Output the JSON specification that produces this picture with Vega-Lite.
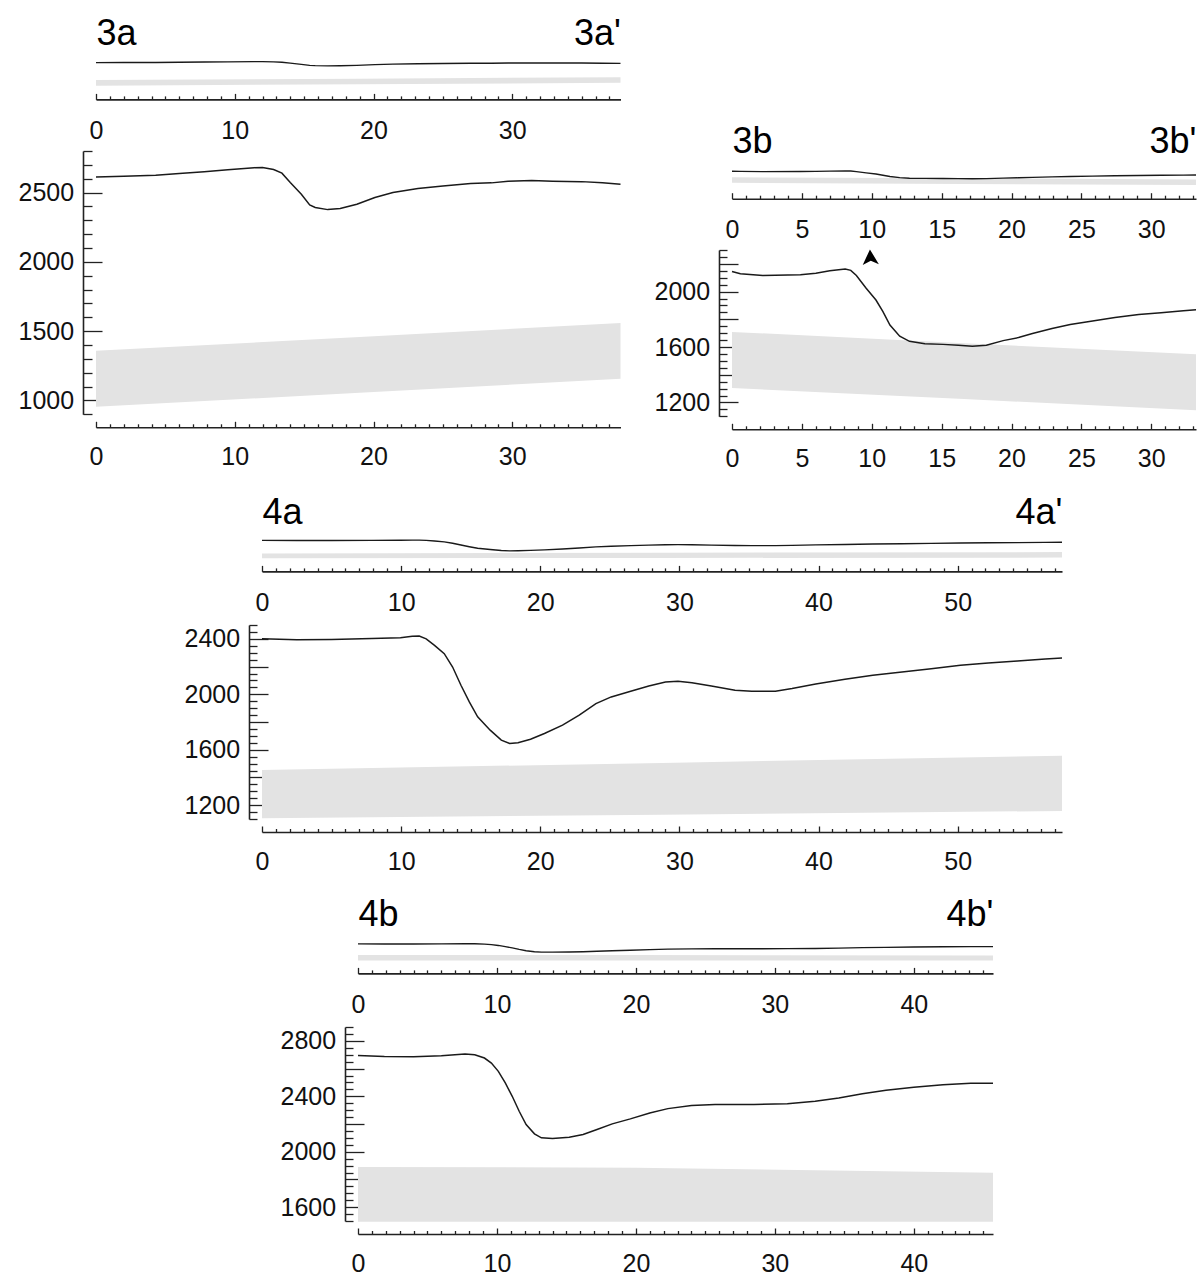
{
  "$schema": "https://vega.github.io/schema/vega-lite/v6.json",
  "padding": {"left": 5, "top": 15, "right": 5, "bottom": 5},
  "config": {
    "view": {"stroke": null},
    "font": "Liberation Sans",
    "axis": {"labelFont": "Liberation Sans", "labelFontSize": 25, "labelColor": "#111", "domainColor": "#222", "domainWidth": 1.6, "tickColor": "#222", "tickWidth": 1.3, "grid": false, "labelFlush": false, "labelOverlap": false}
  },
  "datasets": {
    "line3a": [
      {"x": 0, "y": 2613}, {"x": 2, "y": 2618}, {"x": 4.3, "y": 2625}, {"x": 6, "y": 2638}, {"x": 7.8, "y": 2651}, {"x": 9.5, "y": 2665}, {"x": 11.4, "y": 2680}, {"x": 12, "y": 2681}, {"x": 12.8, "y": 2666}, {"x": 13.4, "y": 2640}, {"x": 14.0, "y": 2572}, {"x": 14.8, "y": 2488}, {"x": 15.4, "y": 2411}, {"x": 15.8, "y": 2392}, {"x": 16.7, "y": 2377}, {"x": 17.6, "y": 2385}, {"x": 18.8, "y": 2416}, {"x": 20.1, "y": 2464}, {"x": 21.4, "y": 2500}, {"x": 23.2, "y": 2529}, {"x": 25, "y": 2548}, {"x": 27, "y": 2565}, {"x": 28.5, "y": 2570}, {"x": 29.7, "y": 2582}, {"x": 31.4, "y": 2587}, {"x": 32.9, "y": 2582}, {"x": 35, "y": 2579}, {"x": 36.5, "y": 2570}, {"x": 37.8, "y": 2560}
    ],
    "band3a": [
      {"x": 0, "top": 1358, "bot": 954}, {"x": 19, "top": 1458, "bot": 1055}, {"x": 37.8, "top": 1558, "bot": 1156}
    ],
    "line3b": [
      {"x": 0, "y": 2145}, {"x": 0.6, "y": 2128}, {"x": 2.2, "y": 2116}, {"x": 4.9, "y": 2121}, {"x": 6.0, "y": 2133}, {"x": 7.0, "y": 2150}, {"x": 8.1, "y": 2162}, {"x": 8.5, "y": 2153}, {"x": 8.9, "y": 2116}, {"x": 9.6, "y": 2024}, {"x": 10.3, "y": 1939}, {"x": 10.8, "y": 1855}, {"x": 11.3, "y": 1758}, {"x": 12.0, "y": 1678}, {"x": 12.7, "y": 1641}, {"x": 13.8, "y": 1624}, {"x": 15.1, "y": 1619}, {"x": 16.2, "y": 1612}, {"x": 17.2, "y": 1605}, {"x": 18.2, "y": 1612}, {"x": 19.4, "y": 1646}, {"x": 20.5, "y": 1668}, {"x": 21.5, "y": 1697}, {"x": 22.9, "y": 1733}, {"x": 24.2, "y": 1762}, {"x": 25.8, "y": 1787}, {"x": 27.4, "y": 1813}, {"x": 29.1, "y": 1835}, {"x": 30.7, "y": 1847}, {"x": 32.3, "y": 1862}, {"x": 33.2, "y": 1869}
    ],
    "band3b": [
      {"x": 0, "top": 1709, "bot": 1304}, {"x": 16.6, "top": 1628, "bot": 1224}, {"x": 33.2, "top": 1547, "bot": 1144}
    ],
    "arrow3b": [
      {"x": 9.9, "y": 2243}
    ],
    "line4a": [
      {"x": 0, "y": 2400}, {"x": 2.5, "y": 2394}, {"x": 5, "y": 2396}, {"x": 7.9, "y": 2403}, {"x": 9.95, "y": 2408}, {"x": 10.8, "y": 2418}, {"x": 11.3, "y": 2420}, {"x": 11.8, "y": 2400}, {"x": 12.4, "y": 2353}, {"x": 13.1, "y": 2293}, {"x": 13.7, "y": 2197}, {"x": 14.3, "y": 2065}, {"x": 14.9, "y": 1945}, {"x": 15.5, "y": 1837}, {"x": 16.4, "y": 1741}, {"x": 17.2, "y": 1669}, {"x": 17.8, "y": 1645}, {"x": 18.4, "y": 1650}, {"x": 19.3, "y": 1676}, {"x": 20.3, "y": 1717}, {"x": 21.6, "y": 1777}, {"x": 22.8, "y": 1849}, {"x": 24.0, "y": 1933}, {"x": 25.1, "y": 1981}, {"x": 26.5, "y": 2022}, {"x": 27.8, "y": 2060}, {"x": 29.0, "y": 2089}, {"x": 29.9, "y": 2094}, {"x": 30.9, "y": 2084}, {"x": 32.3, "y": 2060}, {"x": 34.0, "y": 2029}, {"x": 35.2, "y": 2022}, {"x": 36.9, "y": 2022}, {"x": 38.1, "y": 2041}, {"x": 39.8, "y": 2074}, {"x": 41.9, "y": 2108}, {"x": 43.9, "y": 2137}, {"x": 46.0, "y": 2161}, {"x": 48.1, "y": 2185}, {"x": 50.2, "y": 2209}, {"x": 52.2, "y": 2226}, {"x": 54.3, "y": 2240}, {"x": 56.3, "y": 2254}, {"x": 57.5, "y": 2262}
    ],
    "band4a": [
      {"x": 0, "top": 1453, "bot": 1105}, {"x": 28.75, "top": 1505, "bot": 1131}, {"x": 57.5, "top": 1556, "bot": 1158}
    ],
    "line4b": [
      {"x": 0, "y": 2695}, {"x": 1.9, "y": 2688}, {"x": 4.0, "y": 2686}, {"x": 6.0, "y": 2693}, {"x": 7.7, "y": 2705}, {"x": 8.4, "y": 2700}, {"x": 9.1, "y": 2676}, {"x": 9.6, "y": 2640}, {"x": 10.1, "y": 2580}, {"x": 10.6, "y": 2496}, {"x": 11.1, "y": 2400}, {"x": 11.6, "y": 2292}, {"x": 12.1, "y": 2196}, {"x": 12.7, "y": 2129}, {"x": 13.2, "y": 2100}, {"x": 14.0, "y": 2095}, {"x": 15.2, "y": 2105}, {"x": 16.2, "y": 2124}, {"x": 17.2, "y": 2160}, {"x": 18.3, "y": 2201}, {"x": 19.6, "y": 2237}, {"x": 21.0, "y": 2280}, {"x": 22.3, "y": 2311}, {"x": 24.0, "y": 2333}, {"x": 25.7, "y": 2340}, {"x": 28.5, "y": 2340}, {"x": 30.9, "y": 2347}, {"x": 32.9, "y": 2364}, {"x": 34.6, "y": 2388}, {"x": 36.3, "y": 2419}, {"x": 38.0, "y": 2443}, {"x": 40.0, "y": 2465}, {"x": 42.1, "y": 2484}, {"x": 44.1, "y": 2494}, {"x": 45.7, "y": 2494}
    ],
    "band4b": [
      {"x": 0, "top": 1890, "bot": 1495}, {"x": 20, "top": 1885, "bot": 1495}, {"x": 45.7, "top": 1848, "bot": 1495}
    ]
  },
  "spacing": 22,
  "vconcat": [
    {
      "spacing": 16,
      "hconcat": [
        {
          "spacing": 6,
          "vconcat": [
            {
              "width": 524.5, "height": 26.4,
              "resolve": {"axis": {"x": "independent"}},
              "layer": [
                {"data": {"name": "band3a"}, "mark": {"type": "area", "color": "#e3e3e3"},
                 "encoding": {
                   "x": {"field": "x", "type": "quantitative", "title": null, "scale": {"domain": [0, 37.8], "nice": false, "zero": false},
                         "axis": {"orient": "bottom", "offset": 13, "format": "d", "labelOverlap": false, "values": [0,1,2,3,4,5,6,7,8,9,10,11,12,13,14,15,16,17,18,19,20,21,22,23,24,25,26,27,28,29,30,31,32,33,34,35,36,37], "tickSize": {"condition": {"test": "datum.value % 10 === 0", "value": -6}, "value": -3.5}, "labelFontSize": {"condition": {"test": "datum.value % 10 === 0", "value": 25}, "value": 0}, "labelExpr": "datum.value % 10 === 0 ? datum.label : ''", "labelPadding": 25}},
                   "y": {"field": "top", "type": "quantitative", "title": null, "scale": {"domain": [900, 2800], "nice": false, "zero": false}, "axis": null},
                   "y2": {"field": "bot"}
                 }},
                {"data": {"name": "line3a"}, "mark": {"type": "line", "color": "#1a1a1a", "strokeWidth": 1.4},
                 "encoding": {
                   "x": {"field": "x", "type": "quantitative", "title": null, "scale": {"domain": [0, 37.8], "nice": false, "zero": false},
                         "axis": {"orient": "top", "values": [0, 37.8], "labelOverlap": false, "labelExpr": "datum.value < 1 ? '3a' : \"3a'\"", "labelAlign": {"condition": {"test": "datum.value < 1", "value": "left"}, "value": "right"}, "labelBaseline": "alphabetic", "labelFontSize": 36, "labelColor": "#000", "labelPadding": 16, "ticks": false, "domain": false}},
                   "y": {"field": "y", "type": "quantitative", "title": null, "scale": {"domain": [900, 2800], "nice": false, "zero": false}, "axis": null}
                 }}
              ]
            },
            {
              "width": 524.5, "height": 263.3,
              "resolve": {"axis": {"x": "independent", "y": "independent"}},
              "layer": [
                {"data": {"name": "band3a"}, "mark": {"type": "area", "color": "#e3e3e3"},
                 "encoding": {
                   "x": {"field": "x", "type": "quantitative", "title": null, "scale": {"domain": [0, 37.8], "nice": false, "zero": false},
                         "axis": {"orient": "bottom", "offset": 13, "format": "d", "labelOverlap": false, "values": [0,1,2,3,4,5,6,7,8,9,10,11,12,13,14,15,16,17,18,19,20,21,22,23,24,25,26,27,28,29,30,31,32,33,34,35,36,37], "tickSize": {"condition": {"test": "datum.value % 10 === 0", "value": -6}, "value": -3.5}, "labelFontSize": {"condition": {"test": "datum.value % 10 === 0", "value": 25}, "value": 0}, "labelExpr": "datum.value % 10 === 0 ? datum.label : ''", "labelPadding": 23}},
                   "y": {"field": "top", "type": "quantitative", "title": null, "scale": {"domain": [900, 2800], "nice": false, "zero": false},
                         "axis": {"orient": "left", "offset": 13, "format": "d", "labelOverlap": false, "values": [900,1000,1100,1200,1300,1400,1500,1600,1700,1800,1900,2000,2100,2200,2300,2400,2500,2600,2700,2800], "tickSize": {"condition": {"test": "datum.value % 500 === 0", "value": -19}, "value": -9}, "labelFontSize": {"condition": {"test": "datum.value % 500 === 0", "value": 25}, "value": 0}, "labelExpr": "datum.value % 500 === 0 ? datum.label : ''", "labelPadding": 28.4, "minExtent": 77.5}},
                   "y2": {"field": "bot"}
                 }},
                {"data": {"name": "line3a"}, "mark": {"type": "line", "color": "#1a1a1a", "strokeWidth": 1.5},
                 "encoding": {
                   "x": {"field": "x", "type": "quantitative", "title": null, "axis": null},
                   "y": {"field": "y", "type": "quantitative", "title": null, "axis": null}
                 }}
              ]
            }
          ]
        },
        {
          "spacing": 6,
          "vconcat": [
            {
              "width": 464, "height": 125.7,
              "resolve": {"axis": {"x": "independent"}},
              "layer": [
                {"data": {"name": "band3b"}, "mark": {"type": "area", "color": "#e3e3e3"},
                 "encoding": {
                   "x": {"field": "x", "type": "quantitative", "title": null, "scale": {"domain": [0, 33.2], "nice": false, "zero": false},
                         "axis": {"orient": "bottom", "offset": 13, "format": "d", "labelOverlap": false, "values": [0,1,2,3,4,5,6,7,8,9,10,11,12,13,14,15,16,17,18,19,20,21,22,23,24,25,26,27,28,29,30,31,32,33], "tickSize": {"condition": {"test": "datum.value % 5 === 0", "value": -6}, "value": -3.5}, "labelFontSize": {"condition": {"test": "datum.value % 5 === 0", "value": 25}, "value": 0}, "labelExpr": "datum.value % 5 === 0 ? datum.label : ''", "labelPadding": 25}},
                   "y": {"field": "top", "type": "quantitative", "title": null, "scale": {"domain": [1100, 10147], "nice": false, "zero": false}, "axis": null},
                   "y2": {"field": "bot"}
                 }},
                {"data": {"name": "line3b"}, "mark": {"type": "line", "color": "#1a1a1a", "strokeWidth": 1.4},
                 "encoding": {
                   "x": {"field": "x", "type": "quantitative", "title": null, "scale": {"domain": [0, 33.2], "nice": false, "zero": false},
                         "axis": {"orient": "top", "offset": -108.4, "values": [0, 33.2], "labelOverlap": false, "labelExpr": "datum.value < 1 ? '3b' : \"3b'\"", "labelAlign": {"condition": {"test": "datum.value < 1", "value": "left"}, "value": "right"}, "labelBaseline": "alphabetic", "labelFontSize": 36, "labelColor": "#000", "labelPadding": 16, "ticks": false, "domain": false}},
                   "y": {"field": "y", "type": "quantitative", "title": null, "scale": {"domain": [1100, 10147], "nice": false, "zero": false}, "axis": null}
                 }}
              ]
            },
            {
              "width": 464, "height": 166.3,
              "resolve": {"axis": {"x": "independent", "y": "independent"}},
              "layer": [
                {"data": {"name": "band3b"}, "mark": {"type": "area", "color": "#e3e3e3"},
                 "encoding": {
                   "x": {"field": "x", "type": "quantitative", "title": null, "scale": {"domain": [0, 33.2], "nice": false, "zero": false},
                         "axis": {"orient": "bottom", "offset": 13, "format": "d", "labelOverlap": false, "values": [0,1,2,3,4,5,6,7,8,9,10,11,12,13,14,15,16,17,18,19,20,21,22,23,24,25,26,27,28,29,30,31,32,33], "tickSize": {"condition": {"test": "datum.value % 5 === 0", "value": -6}, "value": -3.5}, "labelFontSize": {"condition": {"test": "datum.value % 5 === 0", "value": 25}, "value": 0}, "labelExpr": "datum.value % 5 === 0 ? datum.label : ''", "labelPadding": 23}},
                   "y": {"field": "top", "type": "quantitative", "title": null, "scale": {"domain": [1100, 2300], "nice": false, "zero": false},
                         "axis": {"orient": "left", "offset": 13, "format": "d", "labelOverlap": false, "values": [1100,1150,1200,1250,1300,1350,1400,1450,1500,1550,1600,1650,1700,1750,1800,1850,1900,1950,2000,2050,2100,2150,2200,2250,2300], "tickSize": {"condition": {"test": "datum.value % 200 === 0", "value": -19}, "value": -8}, "labelFontSize": {"condition": {"test": "datum.value % 400 === 0", "value": 25}, "value": 0}, "labelExpr": "datum.value % 400 === 0 ? datum.label : ''", "labelPadding": 28.4, "minExtent": 79}},
                   "y2": {"field": "bot"}
                 }},
                {"data": {"name": "line3b"}, "mark": {"type": "line", "color": "#1a1a1a", "strokeWidth": 1.5},
                 "encoding": {
                   "x": {"field": "x", "type": "quantitative", "title": null, "axis": null},
                   "y": {"field": "y", "type": "quantitative", "title": null, "axis": null}
                 }},
                {"data": {"name": "arrow3b"}, "mark": {"type": "point", "shape": "M-0.05,-1 L1,0.75 L0.05,0.35 L-0.9,0.85 Z", "filled": true, "color": "#000", "opacity": 1, "size": 289},
                 "encoding": {
                   "x": {"field": "x", "type": "quantitative", "title": null, "axis": null},
                   "y": {"field": "y", "type": "quantitative", "title": null, "axis": null}
                 }}
              ]
            }
          ]
        }
      ]
    },
    {
      "spacing": 0,
      "hconcat": [
        {"width": 83, "height": 1, "data": {"values": []}, "mark": "point", "encoding": {}},
        {
          "spacing": 8,
          "vconcat": [
            {
              "width": 800, "height": 19.4,
              "resolve": {"axis": {"x": "independent"}},
              "layer": [
                {"data": {"name": "band4a"}, "mark": {"type": "area", "color": "#e3e3e3"},
                 "encoding": {
                   "x": {"field": "x", "type": "quantitative", "title": null, "scale": {"domain": [0, 57.5], "nice": false, "zero": false},
                         "axis": {"orient": "bottom", "offset": 13, "format": "d", "labelOverlap": false, "values": [0,1,2,3,4,5,6,7,8,9,10,11,12,13,14,15,16,17,18,19,20,21,22,23,24,25,26,27,28,29,30,31,32,33,34,35,36,37,38,39,40,41,42,43,44,45,46,47,48,49,50,51,52,53,54,55,56,57], "tickSize": {"condition": {"test": "datum.value % 10 === 0", "value": -6}, "value": -3.5}, "labelFontSize": {"condition": {"test": "datum.value % 10 === 0", "value": 25}, "value": 0}, "labelExpr": "datum.value % 10 === 0 ? datum.label : ''", "labelPadding": 25}},
                   "y": {"field": "top", "type": "quantitative", "title": null, "scale": {"domain": [1100, 2500], "nice": false, "zero": false}, "axis": null},
                   "y2": {"field": "bot"}
                 }},
                {"data": {"name": "line4a"}, "mark": {"type": "line", "color": "#1a1a1a", "strokeWidth": 1.4},
                 "encoding": {
                   "x": {"field": "x", "type": "quantitative", "title": null, "scale": {"domain": [0, 57.5], "nice": false, "zero": false},
                         "axis": {"orient": "top", "values": [0, 57.5], "labelOverlap": false, "labelExpr": "datum.value < 1 ? '4a' : \"4a'\"", "labelAlign": {"condition": {"test": "datum.value < 1", "value": "left"}, "value": "right"}, "labelBaseline": "alphabetic", "labelFontSize": 36, "labelColor": "#000", "labelPadding": 16, "ticks": false, "domain": false}},
                   "y": {"field": "y", "type": "quantitative", "title": null, "scale": {"domain": [1100, 2500], "nice": false, "zero": false}, "axis": null}
                 }}
              ]
            },
            {
              "width": 800, "height": 194,
              "resolve": {"axis": {"x": "independent", "y": "independent"}},
              "layer": [
                {"data": {"name": "band4a"}, "mark": {"type": "area", "color": "#e3e3e3"},
                 "encoding": {
                   "x": {"field": "x", "type": "quantitative", "title": null, "scale": {"domain": [0, 57.5], "nice": false, "zero": false},
                         "axis": {"orient": "bottom", "offset": 13, "format": "d", "labelOverlap": false, "values": [0,1,2,3,4,5,6,7,8,9,10,11,12,13,14,15,16,17,18,19,20,21,22,23,24,25,26,27,28,29,30,31,32,33,34,35,36,37,38,39,40,41,42,43,44,45,46,47,48,49,50,51,52,53,54,55,56,57], "tickSize": {"condition": {"test": "datum.value % 10 === 0", "value": -6}, "value": -3.5}, "labelFontSize": {"condition": {"test": "datum.value % 10 === 0", "value": 25}, "value": 0}, "labelExpr": "datum.value % 10 === 0 ? datum.label : ''", "labelPadding": 23}},
                   "y": {"field": "top", "type": "quantitative", "title": null, "scale": {"domain": [1100, 2500], "nice": false, "zero": false},
                         "axis": {"orient": "left", "offset": 13, "format": "d", "labelOverlap": false, "values": [1100,1150,1200,1250,1300,1350,1400,1450,1500,1550,1600,1650,1700,1750,1800,1850,1900,1950,2000,2050,2100,2150,2200,2250,2300,2350,2400,2450,2500], "tickSize": {"condition": {"test": "datum.value % 200 === 0", "value": -19}, "value": -8}, "labelFontSize": {"condition": {"test": "datum.value % 400 === 0", "value": 25}, "value": 0}, "labelExpr": "datum.value % 400 === 0 ? datum.label : ''", "labelPadding": 28.4, "minExtent": 70}},
                   "y2": {"field": "bot"}
                 }},
                {"data": {"name": "line4a"}, "mark": {"type": "line", "color": "#1a1a1a", "strokeWidth": 1.5},
                 "encoding": {
                   "x": {"field": "x", "type": "quantitative", "title": null, "axis": null},
                   "y": {"field": "y", "type": "quantitative", "title": null, "axis": null}
                 }}
              ]
            }
          ]
        }
      ]
    },
    {
      "spacing": 0,
      "hconcat": [
        {"width": 179, "height": 1, "data": {"values": []}, "mark": "point", "encoding": {}},
        {
          "spacing": 8,
          "vconcat": [
            {
              "width": 635, "height": 19.4,
              "resolve": {"axis": {"x": "independent"}},
              "layer": [
                {"data": {"name": "band4b"}, "mark": {"type": "area", "color": "#e3e3e3"},
                 "encoding": {
                   "x": {"field": "x", "type": "quantitative", "title": null, "scale": {"domain": [0, 45.7], "nice": false, "zero": false},
                         "axis": {"orient": "bottom", "offset": 13, "format": "d", "labelOverlap": false, "values": [0,1,2,3,4,5,6,7,8,9,10,11,12,13,14,15,16,17,18,19,20,21,22,23,24,25,26,27,28,29,30,31,32,33,34,35,36,37,38,39,40,41,42,43,44,45], "tickSize": {"condition": {"test": "datum.value % 10 === 0", "value": -6}, "value": -3.5}, "labelFontSize": {"condition": {"test": "datum.value % 10 === 0", "value": 25}, "value": 0}, "labelExpr": "datum.value % 10 === 0 ? datum.label : ''", "labelPadding": 25}},
                   "y": {"field": "top", "type": "quantitative", "title": null, "scale": {"domain": [1500, 2900], "nice": false, "zero": false}, "axis": null},
                   "y2": {"field": "bot"}
                 }},
                {"data": {"name": "line4b"}, "mark": {"type": "line", "color": "#1a1a1a", "strokeWidth": 1.4},
                 "encoding": {
                   "x": {"field": "x", "type": "quantitative", "title": null, "scale": {"domain": [0, 45.7], "nice": false, "zero": false},
                         "axis": {"orient": "top", "values": [0, 45.7], "labelOverlap": false, "labelExpr": "datum.value < 1 ? '4b' : \"4b'\"", "labelAlign": {"condition": {"test": "datum.value < 1", "value": "left"}, "value": "right"}, "labelBaseline": "alphabetic", "labelFontSize": 36, "labelColor": "#000", "labelPadding": 16, "ticks": false, "domain": false}},
                   "y": {"field": "y", "type": "quantitative", "title": null, "scale": {"domain": [1500, 2900], "nice": false, "zero": false}, "axis": null}
                 }}
              ]
            },
            {
              "width": 635, "height": 194,
              "resolve": {"axis": {"x": "independent", "y": "independent"}},
              "layer": [
                {"data": {"name": "band4b"}, "mark": {"type": "area", "color": "#e3e3e3"},
                 "encoding": {
                   "x": {"field": "x", "type": "quantitative", "title": null, "scale": {"domain": [0, 45.7], "nice": false, "zero": false},
                         "axis": {"orient": "bottom", "offset": 13, "format": "d", "labelOverlap": false, "values": [0,1,2,3,4,5,6,7,8,9,10,11,12,13,14,15,16,17,18,19,20,21,22,23,24,25,26,27,28,29,30,31,32,33,34,35,36,37,38,39,40,41,42,43,44,45], "tickSize": {"condition": {"test": "datum.value % 10 === 0", "value": -6}, "value": -3.5}, "labelFontSize": {"condition": {"test": "datum.value % 10 === 0", "value": 25}, "value": 0}, "labelExpr": "datum.value % 10 === 0 ? datum.label : ''", "labelPadding": 23}},
                   "y": {"field": "top", "type": "quantitative", "title": null, "scale": {"domain": [1500, 2900], "nice": false, "zero": false},
                         "axis": {"orient": "left", "offset": 13, "format": "d", "labelOverlap": false, "values": [1500,1550,1600,1650,1700,1750,1800,1850,1900,1950,2000,2050,2100,2150,2200,2250,2300,2350,2400,2450,2500,2550,2600,2650,2700,2750,2800,2850,2900], "tickSize": {"condition": {"test": "datum.value % 200 === 0", "value": -19}, "value": -8}, "labelFontSize": {"condition": {"test": "datum.value % 400 === 0", "value": 25}, "value": 0}, "labelExpr": "datum.value % 400 === 0 ? datum.label : ''", "labelPadding": 28.4, "minExtent": 70}},
                   "y2": {"field": "bot"}
                 }},
                {"data": {"name": "line4b"}, "mark": {"type": "line", "color": "#1a1a1a", "strokeWidth": 1.5},
                 "encoding": {
                   "x": {"field": "x", "type": "quantitative", "title": null, "axis": null},
                   "y": {"field": "y", "type": "quantitative", "title": null, "axis": null}
                 }}
              ]
            }
          ]
        }
      ]
    }
  ]
}
